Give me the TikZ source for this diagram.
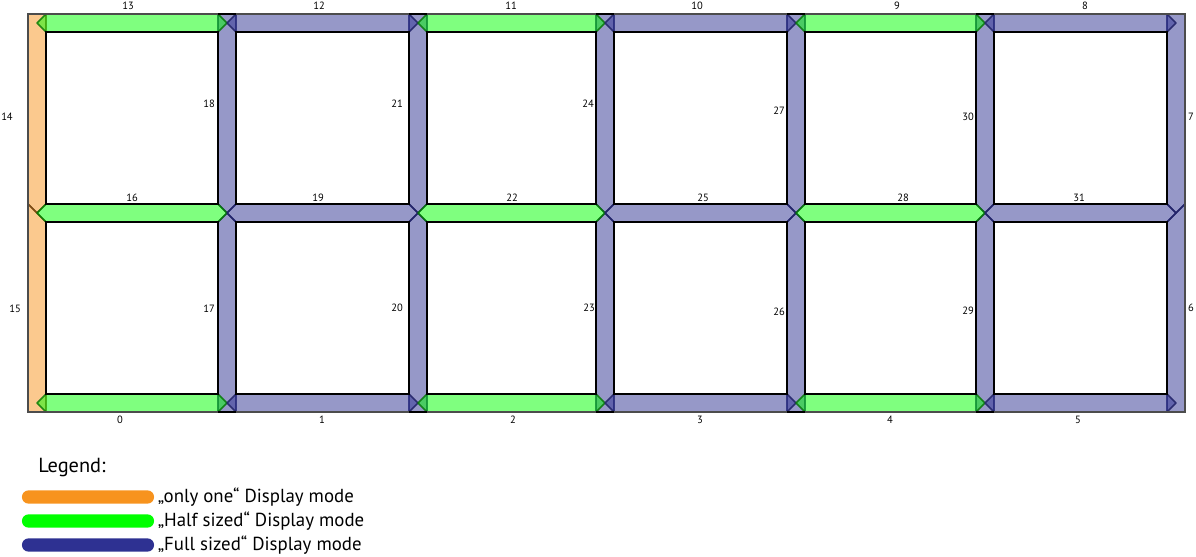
\documentclass[tikz,border=0pt]{standalone}
\usepackage{fontspec}
\setmainfont{PT Sans}
\usepackage{tikz}
\usetikzlibrary{calc,positioning}

\definecolor{oneorange}{HTML}{F7931E}
\definecolor{halfgreen}{HTML}{00FF00}
\definecolor{fullblue}{HTML}{2E3192}

% bar with pointed ends, from junction to junction
\newcommand{\hseg}[3]{\path[#1] (#2) -- ($(#2)+(9,-9)$) -- ($(#3)+(-9,-9)$) -- (#3) -- ($(#3)+(-9,9)$) -- ($(#2)+(9,9)$) -- cycle;}
\newcommand{\vseg}[3]{\path[#1] (#2) -- ($(#2)+(9,9)$) -- ($(#3)+(9,-9)$) -- (#3) -- ($(#3)+(-9,-9)$) -- ($(#2)+(-9,9)$) -- cycle;}
% bars that end on the outer border: flat there
\newcommand{\vsegtop}[3]{\path[#1] ($(#2)+(-9,-9)$) -- ($(#2)+(9,-9)$) -- ($(#3)+(9,-9)$) -- (#3) -- ($(#3)+(-9,-9)$) -- cycle;}
\newcommand{\vsegbot}[3]{\path[#1] (#2) -- ($(#2)+(9,9)$) -- ($(#3)+(9,9)$) -- ($(#3)+(-9,9)$) -- ($(#2)+(-9,9)$) -- cycle;}
% lower outer bars, slanted top that closes the side junction
\newcommand{\vsegleft}[3]{\path[#1] ($(#2)+(-9,-9)$) -- (#2) -- ($(#2)+(9,9)$) -- ($(#3)+(9,9)$) -- ($(#3)+(-9,9)$) -- cycle;}
\newcommand{\vsegright}[3]{\path[#1] ($(#2)+(9,-9)$) -- (#2) -- ($(#2)+(-9,9)$) -- ($(#3)+(-9,9)$) -- ($(#3)+(9,9)$) -- cycle;}

\begin{document}
\begin{tikzpicture}[
    x=0.025cm, y=-0.025cm,
    onebar/.style={fill=oneorange, fill opacity=0.5, draw=oneorange!45!black, draw opacity=0.8, line width=1.1pt, line join=bevel},
    halfbar/.style={fill=halfgreen, fill opacity=0.5, draw=halfgreen!45!black, draw opacity=0.8, line width=1.1pt, line join=bevel},
    fullbar/.style={fill=fullblue, fill opacity=0.5, draw=fullblue!70!black, draw opacity=0.85, line width=1.1pt, line join=bevel},
    cell/.style={draw=black, line width=1.3pt},
    num/.style={font=\fontsize{7.5}{9}\selectfont, inner sep=0pt},
    swatch/.style={rectangle, rounded corners=0.16cm, minimum width=3.3cm, minimum height=0.33cm, inner sep=0pt},
    legtext/.style={font=\fontsize{13.4}{15}\selectfont, inner sep=0pt}
]
\useasboundingbox (0,0) rectangle (1196,557);

% junctions
\coordinate (j00) at (37,23);   \coordinate (j01) at (37,213);   \coordinate (j02) at (37,403);
\coordinate (j10) at (227,23);  \coordinate (j11) at (227,213);  \coordinate (j12) at (227,403);
\coordinate (j20) at (418,23);  \coordinate (j21) at (418,213);  \coordinate (j22) at (418,403);
\coordinate (j30) at (605,23);  \coordinate (j31) at (605,213);  \coordinate (j32) at (605,403);
\coordinate (j40) at (796,23);  \coordinate (j41) at (796,213);  \coordinate (j42) at (796,403);
\coordinate (j50) at (985,23);  \coordinate (j51) at (985,213);  \coordinate (j52) at (985,403);
\coordinate (j60) at (1176,23); \coordinate (j61) at (1176,213); \coordinate (j62) at (1176,403);

% outer columns
\vsegtop{onebar}{j00}{j01}
\vsegleft{onebar}{j01}{j02}
\vsegtop{fullbar}{j60}{j61}
\vsegright{fullbar}{j61}{j62}

% inner columns
\vsegtop{fullbar}{j10}{j11}
\vsegbot{fullbar}{j11}{j12}
\vsegtop{fullbar}{j20}{j21}
\vsegbot{fullbar}{j21}{j22}
\vsegtop{fullbar}{j30}{j31}
\vsegbot{fullbar}{j31}{j32}
\vsegtop{fullbar}{j40}{j41}
\vsegbot{fullbar}{j41}{j42}
\vsegtop{fullbar}{j50}{j51}
\vsegbot{fullbar}{j51}{j52}

% top row
\hseg{halfbar}{j00}{j10}
\hseg{fullbar}{j10}{j20}
\hseg{halfbar}{j20}{j30}
\hseg{fullbar}{j30}{j40}
\hseg{halfbar}{j40}{j50}
\hseg{fullbar}{j50}{j60}
% middle row
\hseg{halfbar}{j01}{j11}
\hseg{fullbar}{j11}{j21}
\hseg{halfbar}{j21}{j31}
\hseg{fullbar}{j31}{j41}
\hseg{halfbar}{j41}{j51}
\hseg{fullbar}{j51}{j61}
% bottom row
\hseg{halfbar}{j02}{j12}
\hseg{fullbar}{j12}{j22}
\hseg{halfbar}{j22}{j32}
\hseg{fullbar}{j32}{j42}
\hseg{halfbar}{j42}{j52}
\hseg{fullbar}{j52}{j62}

% cells
\draw[cell] ($(j00)+(9,9)$) rectangle ($(j11)+(-9,-9)$);
\draw[cell] ($(j10)+(9,9)$) rectangle ($(j21)+(-9,-9)$);
\draw[cell] ($(j20)+(9,9)$) rectangle ($(j31)+(-9,-9)$);
\draw[cell] ($(j30)+(9,9)$) rectangle ($(j41)+(-9,-9)$);
\draw[cell] ($(j40)+(9,9)$) rectangle ($(j51)+(-9,-9)$);
\draw[cell] ($(j50)+(9,9)$) rectangle ($(j61)+(-9,-9)$);
\draw[cell] ($(j01)+(9,9)$) rectangle ($(j12)+(-9,-9)$);
\draw[cell] ($(j11)+(9,9)$) rectangle ($(j22)+(-9,-9)$);
\draw[cell] ($(j21)+(9,9)$) rectangle ($(j32)+(-9,-9)$);
\draw[cell] ($(j31)+(9,9)$) rectangle ($(j42)+(-9,-9)$);
\draw[cell] ($(j41)+(9,9)$) rectangle ($(j52)+(-9,-9)$);
\draw[cell] ($(j51)+(9,9)$) rectangle ($(j62)+(-9,-9)$);
\draw[black!70, line width=0.8pt] ($(j00)+(-9,-9)$) rectangle ($(j62)+(9,9)$);
% black caps over the border junctions
\draw[cell] ($(j10)+(-9,-9)$) -- ($(j10)+(9,-9)$);
\draw[cell] ($(j20)+(-9,-9)$) -- ($(j20)+(9,-9)$);
\draw[cell] ($(j30)+(-9,-9)$) -- ($(j30)+(9,-9)$);
\draw[cell] ($(j40)+(-9,-9)$) -- ($(j40)+(9,-9)$);
\draw[cell] ($(j50)+(-9,-9)$) -- ($(j50)+(9,-9)$);
\draw[cell] ($(j12)+(-9,9)$) -- ($(j12)+(9,9)$);
\draw[cell] ($(j22)+(-9,9)$) -- ($(j22)+(9,9)$);
\draw[cell] ($(j32)+(-9,9)$) -- ($(j32)+(9,9)$);
\draw[cell] ($(j42)+(-9,9)$) -- ($(j42)+(9,9)$);
\draw[cell] ($(j52)+(-9,9)$) -- ($(j52)+(9,9)$);

% edge numbers
\node[num] (e13) at (128,6) {13};
\node[num] (e12) at (319,6) {12};
\node[num] (e11) at (511,6) {11};
\node[num] (e10) at (697,6) {10};
\node[num] (e9) at (897,6) {9};
\node[num] (e8) at (1085,6) {8};
\node[num] (e16) at (132,198) {16};
\node[num] (e19) at (318,198) {19};
\node[num] (e22) at (512,198) {22};
\node[num] (e25) at (703,198) {25};
\node[num] (e28) at (903,198) {28};
\node[num] (e31) at (1079,198) {31};
\node[num] (e0) at (120,420) {0};
\node[num] (e1) at (322,420) {1};
\node[num] (e2) at (513,420) {2};
\node[num] (e3) at (700,420) {3};
\node[num] (e4) at (890,420) {4};
\node[num] (e5) at (1078,420) {5};
\node[num] (e14) at (7,117) {14};
\node[num] (e15) at (15,309) {15};
\node[num] (e18) at (209,104) {18};
\node[num] (e17) at (209,309) {17};
\node[num] (e21) at (397,104) {21};
\node[num] (e20) at (397,308) {20};
\node[num] (e24) at (588,104) {24};
\node[num] (e23) at (589,308) {23};
\node[num] (e27) at (779,111) {27};
\node[num] (e26) at (779,312) {26};
\node[num] (e30) at (968,117) {30};
\node[num] (e29) at (968,311) {29};
\node[num] (e7) at (1191,117) {7};
\node[num] (e6) at (1191,308) {6};

% legend
\node[legtext, font=\fontsize{14.5}{16}\selectfont, anchor=west] (legend) at (38,468) {Legend:};
\node[swatch, fill=oneorange] (swone) at (88,497) {};
\node[swatch, fill=halfgreen] (swhalf) at (88,521) {};
\node[swatch, fill=fullblue] (swfull) at (88,545) {};
\node[legtext, right=0.08cm of swone] (txone) {„only one“ Display mode};
\node[legtext, right=0.08cm of swhalf] (txhalf) {„Half sized“ Display mode};
\node[legtext, right=0.08cm of swfull] (txfull) {„Full sized“ Display mode};
\end{tikzpicture}
\end{document}
